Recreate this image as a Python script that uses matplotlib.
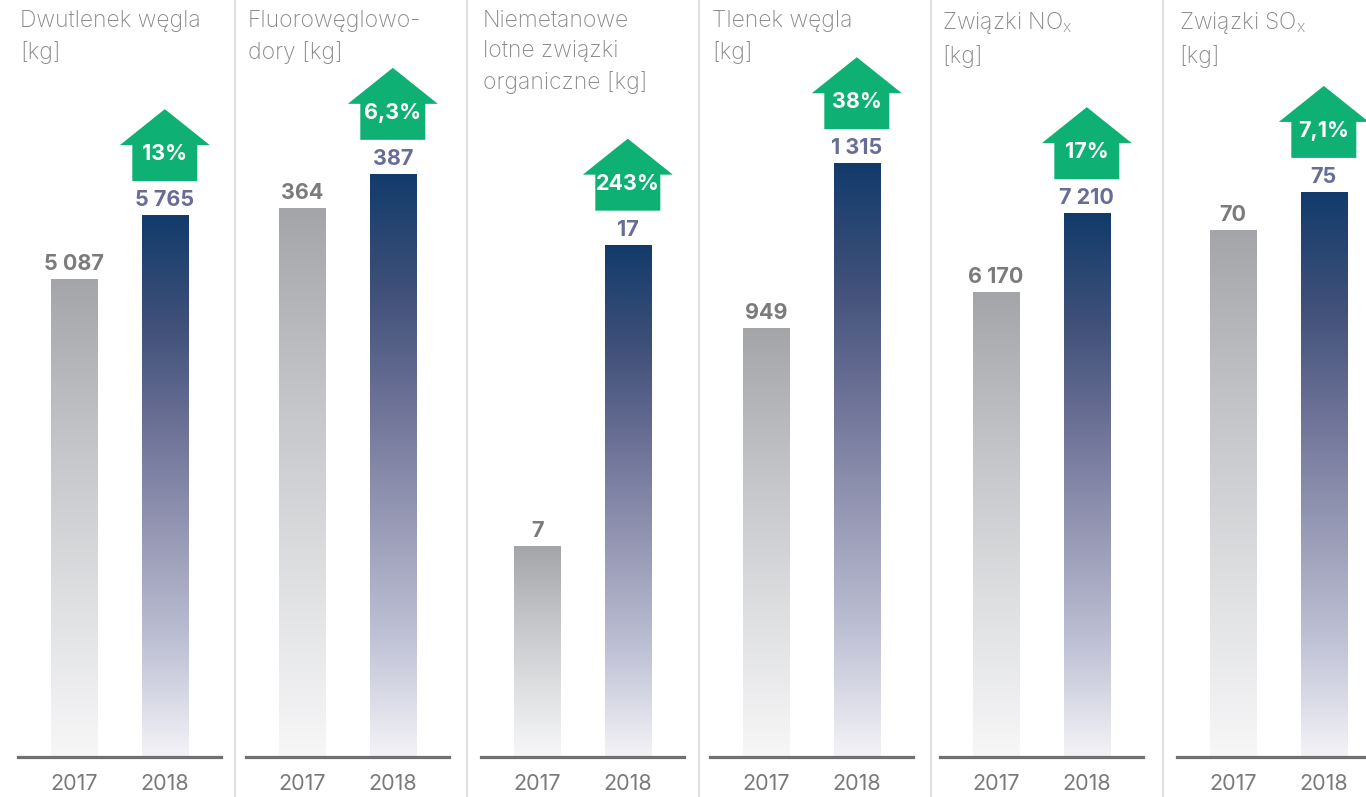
import numpy as np
import matplotlib
matplotlib.use("Agg")
import matplotlib.pyplot as plt
import matplotlib.transforms as mtransforms
from matplotlib.colors import LinearSegmentedColormap
from matplotlib.patches import Polygon
from matplotlib.lines import Line2D

plt.rcParams["font.family"] = ["Inter", "DejaVu Sans"]
plt.rcParams["mathtext.default"] = "regular"

# data
titles = ["Dwutlenek węgla\n[kg]",
          "Fluorowęglowo-\ndory [kg]",
          "Niemetanowe\nlotne związki\norganiczne [kg]",
          "Tlenek węgla\n[kg]",
          "Związki NO$_{\\mathregular{x}}$\n[kg]",
          "Związki SO$_{\\mathregular{x}}$\n[kg]"]
years = ["2017", "2018"]
v2017 = [5087, 364, 7, 949, 6170, 70]
v2018 = [5765, 387, 17, 1315, 7210, 75]
lab2017 = ["5 087", "364", "7", "949", "6 170", "70"]
lab2018 = ["5 765", "387", "17", "1 315", "7 210", "75"]
change = ["13%", "6,3%", "243%", "38%", "17%", "7,1%"]
ymax = [6990, 436, 21.8, 1455, 8710, 87.2]   # per-panel axis top

W, H = 1366, 797
fig = plt.figure(figsize=(W / 100, H / 100), dpi=100)

cm_old = LinearSegmentedColormap.from_list("old", ["#f7f7f8", "#dedfe1", "#c3c4c7", "#a4a5a9"])
cm_new = LinearSegmentedColormap.from_list(
    "new", [(0, "#f3f3f7"), (0.22, "#bcbed3"), (0.45, "#8e91ae"),
            (0.62, "#6a6f95"), (0.8, "#3f5079"), (1, "#123b6b")])
grad = np.linspace(0, 1, 256).reshape(-1, 1)

ax_left = [18, 246, 481, 710, 940, 1177]
ax_w, base_y, top_y = 203, 757, 100
green = "#0fb074"

for i in range(6):
    ax = fig.add_axes([ax_left[i] / W, (H - base_y) / H, ax_w / W, (base_y - top_y) / H])
    bars = ax.bar([0, 1], [v2017[i], v2018[i]], width=0.51, color="none", edgecolor="none")
    for b, cm in zip(bars, [cm_old, cm_new]):
        im = ax.imshow(grad, cmap=cm, origin="lower", aspect="auto",
                       extent=[b.get_x(), b.get_x() + b.get_width(), 0, b.get_height()], zorder=1)
        im.set_clip_path(b)
    ax.set_xlim(-0.62, 1.62)
    ax.set_ylim(0, ymax[i])
    ax.axhline(0, color="#707070", lw=2.3, zorder=3, clip_on=False)
    for s in ax.spines.values():
        s.set_visible(False)
    ax.set_yticks([])
    ax.set_xticks([0, 1])
    ax.set_xticklabels(years, fontsize=15.5, color="#7a7a7a")
    ax.tick_params(axis="x", length=0, pad=12)

    ax.annotate(lab2017[i], (0, v2017[i]), xytext=(0, 5), textcoords="offset pixels",
                ha="center", va="bottom", fontsize=15.5, fontweight="bold", color="#7b7b7d")
    ax.annotate(lab2018[i], (1, v2018[i]), xytext=(0, 5), textcoords="offset pixels",
                ha="center", va="bottom", fontsize=15.5, fontweight="bold", color="#686d97")

    # green arrow above the 2018 bar, sized in pixels
    tr = mtransforms.Affine2D() + mtransforms.ScaledTranslation(1, v2018[i], ax.transData)
    pts = [(-32.5, 34), (32.5, 34), (32.5, 70), (45, 70), (0, 106), (-45, 70), (-32.5, 70)]
    ax.add_patch(Polygon(pts, closed=True, transform=tr, facecolor=green,
                         edgecolor="none", clip_on=False, zorder=4))
    ax.annotate(change[i], (1, v2018[i]), xytext=(0, 61), textcoords="offset pixels",
                ha="center", va="center", fontsize=15.5, fontweight="bold", color="white", zorder=5)

    fig.text((ax_left[i] + 2) / W, 1 - 10 / H, titles[i], ha="left", va="top",
             fontsize=16.5, color="#8a8a8a", fontweight="light", linespacing=1.5)

for x in [235, 467, 699, 931, 1163]:
    fig.add_artist(Line2D([x / W, x / W], [0, 1], transform=fig.transFigure,
                          color="#e0e0e0", lw=1.6))

fig.savefig("out.png", dpi=100)
